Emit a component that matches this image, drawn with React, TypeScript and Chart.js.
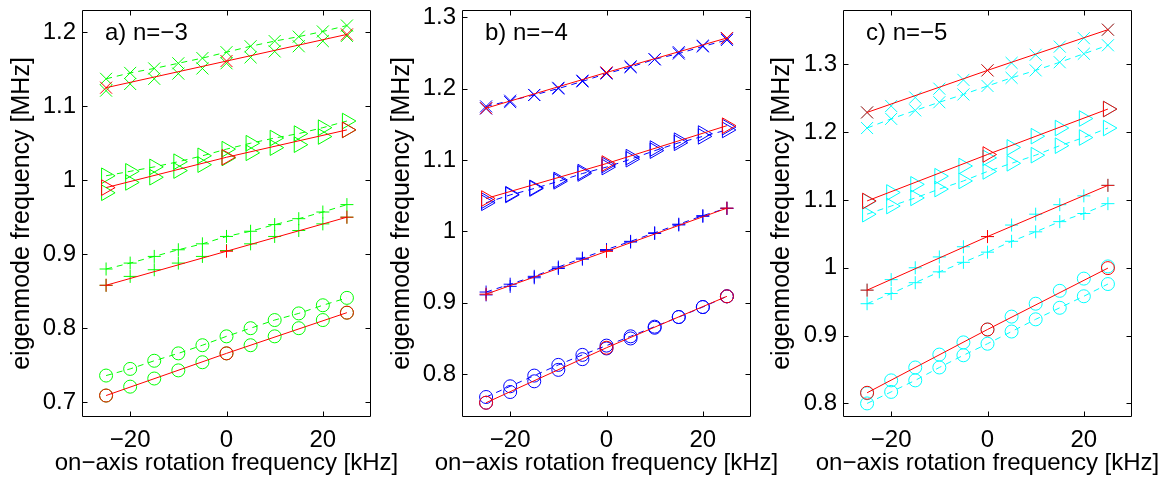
import React, { useEffect, useRef } from 'react';
import { Chart, registerables } from 'chart.js';

Chart.register(...registerables);

// ---------- shared data ----------
const xFull = [-25, -20, -15, -10, -5, 0, 5, 10, 15, 20, 25];
const xRed = [-25, 0, 25];
const xTicks = [-20, 0, 20];
const xRange = [-30, 30];
const xLabel = 'on\u2212axis rotation frequency [kHz]';
const yLabel = 'eigenmode frequency [MHz]';

// ---------- panel a: n = -3 (green) ----------
const aTitle = 'a) n=\u22123';
const aYTicks = [0.7, 0.8, 0.9, 1.0, 1.1, 1.2];
const aYRange = [0.68, 1.23];
const aRedX = [1.125, 1.161, 1.197];
const aGrnXNear = [1.121, 1.130, 1.137, 1.144, 1.151, 1.158, 1.166, 1.174, 1.181, 1.188, 1.195];
const aGrnXDash = [1.137, 1.145, 1.151, 1.158, 1.165, 1.173, 1.181, 1.188, 1.194, 1.201, 1.209];
const aRedTri = [0.990, 1.031, 1.068];
const aGrnTriNear = [0.983, 0.997, 1.004, 1.013, 1.021, 1.030, 1.037, 1.044, 1.048, 1.059, 1.068];
const aGrnTriDash = [1.006, 1.012, 1.018, 1.025, 1.033, 1.042, 1.050, 1.057, 1.063, 1.071, 1.080];
const aRedPlus = [0.858, 0.904, 0.950];
const aGrnPlusNear = [0.858, 0.870, 0.879, 0.888, 0.897, 0.905, 0.914, 0.924, 0.932, 0.941, 0.950];
const aGrnPlusDash = [0.880, 0.888, 0.897, 0.906, 0.914, 0.924, 0.931, 0.940, 0.948, 0.957, 0.967];
const aRedCirc = [0.709, 0.766, 0.821];
const aGrnCircNear = [0.709, 0.721, 0.732, 0.743, 0.754, 0.766, 0.777, 0.789, 0.800, 0.811, 0.821];
const aGrnCircDash = [0.736, 0.745, 0.756, 0.766, 0.777, 0.789, 0.800, 0.811, 0.820, 0.831, 0.841];

// ---------- panel b: n = -4 (blue) ----------
const bTitle = 'b) n=\u22124';
const bYTicks = [0.8, 0.9, 1.0, 1.1, 1.2, 1.3];
const bYRange = [0.74, 1.31];
const bRedX = [1.1725, 1.2225, 1.2708];
const bBluXNear = [1.172, 1.181, 1.191, 1.201, 1.211, 1.222, 1.231, 1.241, 1.251, 1.260, 1.270];
const bBluXDash = [1.175, 1.183, 1.191, 1.200, 1.210, 1.221, 1.230, 1.241, 1.249, 1.259, 1.268];
const bRedTri = [1.046, 1.095, 1.148];
const bBluTriNear = [1.043, 1.052, 1.061, 1.072, 1.083, 1.093, 1.104, 1.116, 1.127, 1.137, 1.146];
const bBluTriDash = [1.040, 1.051, 1.060, 1.070, 1.081, 1.090, 1.101, 1.113, 1.124, 1.133, 1.142];
const bRedPlus = [0.912, 0.972, 1.0325];
const bBluPlusNear = [0.911, 0.923, 0.935, 0.948, 0.961, 0.973, 0.985, 0.997, 1.009, 1.021, 1.032];
const bBluPlusDash = [0.915, 0.926, 0.937, 0.950, 0.9625, 0.9745, 0.986, 0.998, 1.010, 1.022, 1.0325];
const bRedCirc = [0.760, 0.837, 0.909];
const bBluCircNear = [0.760, 0.775, 0.790, 0.806, 0.821, 0.836, 0.850, 0.865, 0.880, 0.894, 0.909];
const bBluCircDash = [0.768, 0.783, 0.798, 0.813, 0.827, 0.840, 0.853, 0.8665, 0.880, 0.894, 0.909];

// ---------- panel c: n = -5 (cyan) ----------
const cTitle = 'c) n=\u22125';
const cYTicks = [0.8, 0.9, 1.0, 1.1, 1.2, 1.3];
const cYRange = [0.78, 1.38];
const cRedX = [1.229, 1.291, 1.351];
const cCyXNear = [1.229, 1.2385, 1.251, 1.264, 1.277, 1.291, 1.302, 1.314, 1.326, 1.3385, 1.351];
const cCyXDash = [1.206, 1.2195, 1.232, 1.244, 1.2555, 1.268, 1.280, 1.291, 1.303, 1.3155, 1.328];
const cRedTri = [1.0985, 1.167, 1.234];
const cCyTriNear = [1.098, 1.111, 1.123, 1.135, 1.150, 1.162, 1.1775, 1.194, 1.206, 1.220, 1.234];
const cCyTriDash = [1.079, 1.091, 1.103, 1.116, 1.128, 1.142, 1.154, 1.166, 1.180, 1.192, 1.206];
const cRedPlus = [0.967, 1.046, 1.1215];
const cCyPlusNear = [0.967, 0.9825, 1.000, 1.016, 1.031, 1.046, 1.063, 1.079, 1.093, 1.106, 1.1215];
const cCyPlusDash = [0.947, 0.962, 0.978, 0.994, 1.008, 1.023, 1.039, 1.053, 1.068, 1.080, 1.0945];
const cRedCirc = [0.8157, 0.909, 0.9995];
const cCyCircNear = [0.815, 0.834, 0.853, 0.872, 0.890, 0.909, 0.928, 0.947, 0.966, 0.984, 1.002];
const cCyCircDash = [0.800, 0.817, 0.834, 0.853, 0.871, 0.888, 0.906, 0.924, 0.941, 0.958, 0.976];

// ---------- styling ----------
const FONT = "'Liberation Sans', Arial, Helvetica, sans-serif";
const RED = '#ff0000';
const GREEN = '#00ff00';
const BLUE = '#0000ff';
const CYAN = '#00ffff';

type Marker = { style: string; radius: number; rotation: number };
const MK_X: Marker = { style: 'crossRot', radius: 8.5, rotation: 0 };
const MK_TRI: Marker = { style: 'triangle', radius: 9, rotation: 90 };
const MK_PLUS: Marker = { style: 'cross', radius: 6.5, rotation: 0 };
const MK_CIRC: Marker = { style: 'circle', radius: 6.5, rotation: 0 };

type Group = { mk: Marker; red: number[]; near: number[]; dash: number[] };

type Panel = {
  title: string;
  yTicks: number[];
  yRange: number[];
  color: string;
  groups: Group[];
  canvasLeft: number;
  canvasWidth: number;
  yAxisWidth: number;
  rightPad: number;
};

const panels: Panel[] = [
  {
    title: aTitle, yTicks: aYTicks, yRange: aYRange, color: GREEN,
    groups: [
      { mk: MK_X, red: aRedX, near: aGrnXNear, dash: aGrnXDash },
      { mk: MK_TRI, red: aRedTri, near: aGrnTriNear, dash: aGrnTriDash },
      { mk: MK_PLUS, red: aRedPlus, near: aGrnPlusNear, dash: aGrnPlusDash },
      { mk: MK_CIRC, red: aRedCirc, near: aGrnCircNear, dash: aGrnCircDash },
    ],
    canvasLeft: 0, canvasWidth: 420, yAxisWidth: 82, rightPad: 49,
  },
  {
    title: bTitle, yTicks: bYTicks, yRange: bYRange, color: BLUE,
    groups: [
      { mk: MK_X, red: bRedX, near: bBluXNear, dash: bBluXDash },
      { mk: MK_TRI, red: bRedTri, near: bBluTriNear, dash: bBluTriDash },
      { mk: MK_PLUS, red: bRedPlus, near: bBluPlusNear, dash: bBluPlusDash },
      { mk: MK_CIRC, red: bRedCirc, near: bBluCircNear, dash: bBluCircDash },
    ],
    canvasLeft: 380, canvasWidth: 400, yAxisWidth: 82, rightPad: 29,
  },
  {
    title: cTitle, yTicks: cYTicks, yRange: cYRange, color: CYAN,
    groups: [
      { mk: MK_X, red: cRedX, near: cCyXNear, dash: cCyXDash },
      { mk: MK_TRI, red: cRedTri, near: cCyTriNear, dash: cCyTriDash },
      { mk: MK_PLUS, red: cRedPlus, near: cCyPlusNear, dash: cCyPlusDash },
      { mk: MK_CIRC, red: cRedCirc, near: cCyCircNear, dash: cCyCircDash },
    ],
    canvasLeft: 760, canvasWidth: 403, yAxisWidth: 83, rightPad: 31,
  },
];

const CANVAS_H = 480;
const X_AXIS_H = 63;
const TOP_PAD = 7;

function pts(xs: number[], ys: number[]) {
  return xs.map((x, i) => ({ x, y: ys[i] }));
}

function fmtTick(v: number): string {
  const s = String(parseFloat(Number(v).toFixed(1)));
  return s.replace('-', '\u2212');
}

const framePlugin = {
  id: 'matlabFrame',
  afterDraw(chart: any, _args: any, opts: any) {
    const { ctx, chartArea } = chart;
    const L = Math.round(chartArea.left) + 0.5;
    const R = Math.round(chartArea.right) - 0.5;
    const T = Math.round(chartArea.top) + 0.5;
    const B = Math.round(chartArea.bottom) - 0.5;
    const xs = chart.scales.x;
    const ys = chart.scales.y;
    const tl = 5;
    ctx.save();
    ctx.strokeStyle = '#000';
    ctx.lineWidth = 1;
    ctx.beginPath();
    ctx.rect(L, T, R - L, B - T);
    xs.ticks.forEach((t: any) => {
      const px = Math.round(xs.getPixelForValue(t.value)) + 0.5;
      ctx.moveTo(px, B); ctx.lineTo(px, B - tl);
      ctx.moveTo(px, T); ctx.lineTo(px, T + tl);
    });
    ys.ticks.forEach((t: any) => {
      const py = Math.round(ys.getPixelForValue(t.value)) + 0.5;
      ctx.moveTo(L, py); ctx.lineTo(L + tl, py);
      ctx.moveTo(R, py); ctx.lineTo(R - tl, py);
    });
    ctx.stroke();
    ctx.fillStyle = '#000';
    if (opts && opts.title) {
      ctx.font = `24px ${FONT}`;
      ctx.textAlign = 'left';
      ctx.textBaseline = 'middle';
      ctx.fillText(opts.title, chartArea.left + 23, chartArea.top + 23);
    }
    if (opts && opts.xLabel) {
      // x-axis label drawn without width compression
      ctx.font = `24px ${FONT}`;
      ctx.textAlign = 'center';
      ctx.textBaseline = 'middle';
      ctx.fillText(opts.xLabel, (chartArea.left + chartArea.right) / 2, chartArea.bottom + 46);
    }
    ctx.restore();
  },
};

function buildConfig(p: Panel): any {
  const reds: any[] = [];
  const others: any[] = [];
  p.groups.forEach((g) => {
    const common = {
      pointStyle: g.mk.style,
      pointRadius: g.mk.radius,
      pointHoverRadius: g.mk.radius,
      pointRotation: g.mk.rotation,
      pointBorderWidth: 1,
      pointBackgroundColor: 'rgba(0,0,0,0)',
      backgroundColor: 'rgba(0,0,0,0)',
      borderWidth: 1,
      tension: 0,
      fill: false,
    };
    reds.push({
      ...common,
      data: pts(xRed, g.red),
      borderColor: RED,
      pointBorderColor: RED,
      showLine: true,
    });
    others.push({
      ...common,
      data: pts(xFull, g.near),
      borderColor: p.color,
      pointBorderColor: p.color,
      showLine: false,
    });
    others.push({
      ...common,
      data: pts(xFull, g.dash),
      borderColor: p.color,
      pointBorderColor: p.color,
      showLine: true,
      borderDash: [6, 5],
    });
  });

  const tickFont = { family: FONT, size: 24 };
  const titleFont = { family: FONT, size: 25, lineHeight: 1 };
  return {
    type: 'line',
    data: { datasets: [...reds, ...others] },
    plugins: [framePlugin],
    options: {
      animation: false,
      responsive: false,
      devicePixelRatio: 1,
      events: [],
      layout: { padding: { left: 0, right: p.rightPad, top: TOP_PAD, bottom: 0 } },
      plugins: {
        legend: { display: false },
        tooltip: { enabled: false },
        matlabFrame: { title: p.title, xLabel },
      },
      scales: {
        x: {
          type: 'linear',
          min: xRange[0],
          max: xRange[1],
          afterBuildTicks: (s: any) => { s.ticks = xTicks.map((v) => ({ value: v })); },
          afterFit: (s: any) => { s.height = X_AXIS_H; s.paddingLeft = 0; s.paddingRight = 0; },
          grid: { display: false, drawTicks: false },
          border: { display: false },
          ticks: {
            color: '#000', font: tickFont, padding: 9,
            maxRotation: 0, minRotation: 0, autoSkip: false,
            callback: (v: any) => fmtTick(v),
          },
          title: { display: false },
        },
        y: {
          type: 'linear',
          min: p.yRange[0],
          max: p.yRange[1],
          afterBuildTicks: (s: any) => { s.ticks = p.yTicks.map((v) => ({ value: v })); },
          afterFit: (s: any) => { s.width = p.yAxisWidth; s.paddingTop = 0; s.paddingBottom = 0; },
          grid: { display: false, drawTicks: false },
          border: { display: false },
          ticks: {
            color: '#000', font: tickFont, padding: 6, autoSkip: false,
            callback: (v: any) => fmtTick(v),
          },
          title: {
            display: true,
            text: yLabel,
            color: '#000',
            font: titleFont,
            padding: { top: 10, bottom: 0 },
          },
        },
      },
    },
  };
}

export default function App() {
  const r0 = useRef<HTMLCanvasElement>(null);
  const r1 = useRef<HTMLCanvasElement>(null);
  const r2 = useRef<HTMLCanvasElement>(null);
  const refs = [r0, r1, r2];

  useEffect(() => {
    const charts: Chart[] = [];
    refs.forEach((r, i) => {
      if (r.current) charts.push(new Chart(r.current, buildConfig(panels[i])));
    });
    return () => { charts.forEach((c) => c.destroy()); };
  }, []);

  return (
    <div style={{ position: 'absolute', left: 0, top: 0, width: 1163, height: CANVAS_H, background: '#fff', overflow: 'hidden' }}>
      {panels.map((p, i) => (
        <canvas
          key={i}
          ref={refs[i]}
          width={p.canvasWidth}
          height={CANVAS_H}
          style={{ position: 'absolute', left: p.canvasLeft, top: 0, width: p.canvasWidth, height: CANVAS_H }}
        />
      ))}
    </div>
  );
}
